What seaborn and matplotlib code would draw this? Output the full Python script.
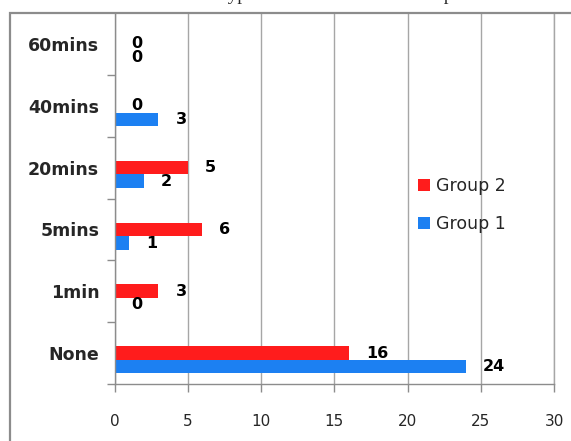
import matplotlib
matplotlib.use("Agg")
import matplotlib.pyplot as plt
from matplotlib.patches import Patch, Rectangle
from matplotlib.ticker import FixedLocator
import seaborn as sns
import pandas as pd

categories = ["60mins", "40mins", "20mins", "5mins", "1min", "None"]
group1 = [0, 3, 2, 1, 0, 24]
group2 = [0, 0, 5, 6, 3, 16]
series_names = ["Group 2", "Group 1"]
x_ticks = [0, 5, 10, 15, 20, 25, 30]
title_text = "Hypotension at different time points"

RED = "#FF1C1C"
BLUE = "#1C80F2"
GRID = "#A6A6A6"
FRAME = "#8C8C8C"

sns.set_theme(style="white")
plt.rcParams["font.family"] = ["DejaVu Sans"]

rows = []
for c in categories:
    rows.append({"cat": c, "grp": "_pad", "val": 0})
for c, v in zip(categories, group2):
    rows.append({"cat": c, "grp": "Group 2", "val": v})
for c, v in zip(categories, group1):
    rows.append({"cat": c, "grp": "Group 1", "val": v})
df = pd.DataFrame(rows)
hue_order = ["_pad", "Group 2", "Group 1"]

fig = plt.figure(figsize=(5.71, 4.41), dpi=100)
ax = fig.add_axes([114.5 / 571, 1 - 384 / 441, (554 - 114.5) / 571, (384 - 13) / 441])

sns.barplot(data=df, y="cat", x="val", hue="grp", hue_order=hue_order,
            order=categories, orient="h", width=0.66,
            palette={"_pad": "white", "Group 2": RED, "Group 1": BLUE},
            saturation=1, legend=False, errorbar=None, ax=ax, linewidth=0)

for i, cont in enumerate(ax.containers):
    name = hue_order[i] if i < len(hue_order) else None
    if name == "_pad":
        for b in cont:
            b.set_visible(False)
        continue
    ax.bar_label(cont, labels=[f"{int(round(b.get_width()))}" for b in cont],
                 padding=12.2, fontsize=11.5, fontweight="bold", color="black")

ax.set_xlim(0, 30)
ax.set_ylim(len(categories) - 0.5, -0.5)
ax.set_xticks(x_ticks)
ax.set_xticklabels([str(t) for t in x_ticks], fontsize=11)
ax.set_xlabel("")
ax.set_ylabel("")
for lab in ax.get_yticklabels():
    lab.set_fontweight("bold")
    lab.set_fontsize(12.5)

ax.xaxis.grid(True, color=GRID, linewidth=1)
ax.yaxis.grid(False)
ax.set_axisbelow(True)
ax.spines["top"].set_visible(False)
ax.spines["right"].set_visible(True)
ax.spines["right"].set_color(GRID)
ax.spines["right"].set_linewidth(1)
for s in ["left", "bottom"]:
    ax.spines[s].set_color(FRAME)
    ax.spines[s].set_linewidth(1)

ax.tick_params(axis="x", which="major", direction="out", length=5.8, width=1,
               color=FRAME, pad=15.5, bottom=True)
ax.tick_params(axis="y", which="major", length=0, pad=11)
ax.yaxis.set_minor_locator(FixedLocator([k + 0.5 for k in range(len(categories))]))
ax.tick_params(axis="y", which="minor", direction="out", length=5.8, width=1,
               color=FRAME, left=True, right=False)

handles = [Patch(facecolor=RED, edgecolor="none"), Patch(facecolor=BLUE, edgecolor="none")]
fig.legend(handles, series_names, loc="upper left", bbox_to_anchor=(418 / 571, 1 - 177 / 441),
           frameon=False, fontsize=12.5, handlelength=0.7, handleheight=0.7,
           handletextpad=0.35, labelspacing=1.15, borderpad=0, borderaxespad=0)

fig.patches.append(Rectangle((9.5 / 571, -0.2), 2.0, 1.2 - 12.5 / 441, fill=False,
                             edgecolor=FRAME, linewidth=1.6, transform=fig.transFigure,
                             clip_on=False))

fig.text(214 / 571, 1.0, title_text, family="Liberation Serif", fontsize=13.8,
         ha="left", va="baseline")

fig.savefig("out.png", dpi=100)
